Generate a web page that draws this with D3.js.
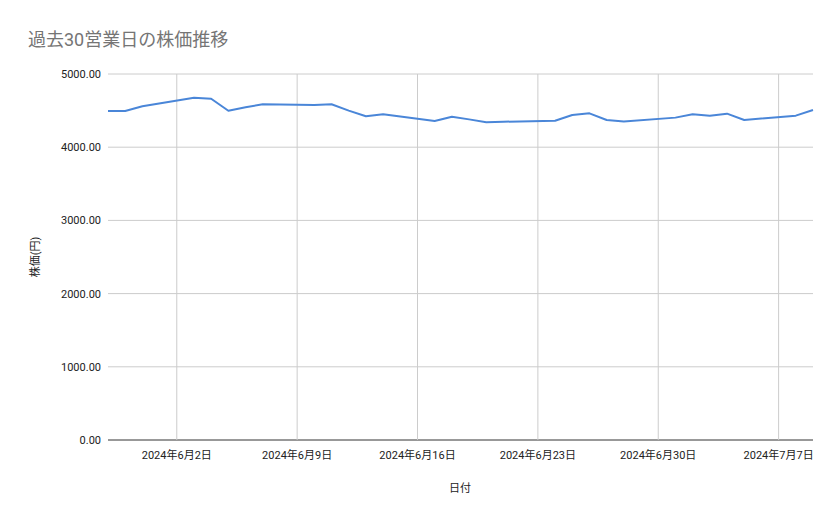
<!DOCTYPE html>
<html><head><meta charset="utf-8">
<script src="https://cdn.jsdelivr.net/npm/d3@7"></script>
<style>body{margin:0;background:#fff;font-family:Roboto,"Noto Sans CJK JP",sans-serif}</style>
</head><body><svg id="c" width="839" height="519"></svg>
<script>
const dates = ["2024-05-29","2024-05-30","2024-05-31","2024-06-03","2024-06-04","2024-06-05","2024-06-06","2024-06-07","2024-06-10","2024-06-11","2024-06-12","2024-06-13","2024-06-14","2024-06-17","2024-06-18","2024-06-19","2024-06-20","2024-06-21","2024-06-24","2024-06-25","2024-06-26","2024-06-27","2024-06-28","2024-07-01","2024-07-02","2024-07-03","2024-07-04","2024-07-05","2024-07-08","2024-07-09"];
const prices = [4495,4495,4560,4676,4662,4498,4545,4586,4578,4586,4500,4422,4450,4358,4417,4380,4340,4348,4362,4440,4463,4372,4350,4404,4450,4431,4458,4372,4431,4508];
const yTicks = [0,1000,2000,3000,4000,5000];
const xTicks = ["2024-06-02","2024-06-09","2024-06-16","2024-06-23","2024-06-30","2024-07-07"];

const p = d3.timeParse("%Y-%m-%d");
const svg = d3.select("#c");
const L=108,R=813,T=74,B=440;
const x = d3.scaleTime().domain([p("2024-05-29"),p("2024-07-09")]).range([L,R]);
const y = d3.scaleLinear().domain([0,5000]).range([B,T]);
const fmtX = d=>`${d.getFullYear()}年${d.getMonth()+1}月${d.getDate()}日`;

svg.append("g").selectAll("line").data(yTicks).join("line")
 .attr("x1",L).attr("x2",R).attr("y1",d=>y(d)).attr("y2",d=>y(d))
 .attr("stroke",d=>d===0?"#333":"#ccc").attr("stroke-width",1);
svg.append("g").selectAll("line").data(xTicks).join("line")
 .attr("x1",d=>x(p(d))).attr("x2",d=>x(p(d))).attr("y1",T).attr("y2",B).attr("stroke","#ccc");
svg.append("g").selectAll("text").data(yTicks).join("text")
 .attr("x",L-7).attr("y",d=>y(d)+4).attr("text-anchor","end").attr("font-size",11).attr("fill","#222")
 .text(d=>d.toFixed(2));
svg.append("g").selectAll("text").data(xTicks).join("text")
 .attr("x",d=>x(p(d))).attr("y",459).attr("text-anchor","middle").attr("font-size",11).attr("fill","#222")
 .text(d=>fmtX(p(d)));

svg.append("path").datum(dates.map((d,i)=>[p(d),prices[i]]))
 .attr("fill","none").attr("stroke","#4a86d8").attr("stroke-width",2).attr("stroke-linejoin","round")
 .attr("d",d3.line().x(d=>x(d[0])).y(d=>y(d[1])));

svg.append("text").attr("x",28).attr("y",46).attr("font-size",18).attr("fill","#757575").text("過去30営業日の株価推移");
svg.append("text").attr("x",460).attr("y",492).attr("text-anchor","middle").attr("font-size",11).attr("fill","#222").text("日付");
svg.append("text").attr("transform","translate(39,257) rotate(-90)").attr("text-anchor","middle").attr("font-size",11).attr("fill","#222").text("株価(円)");
</script></body></html>
